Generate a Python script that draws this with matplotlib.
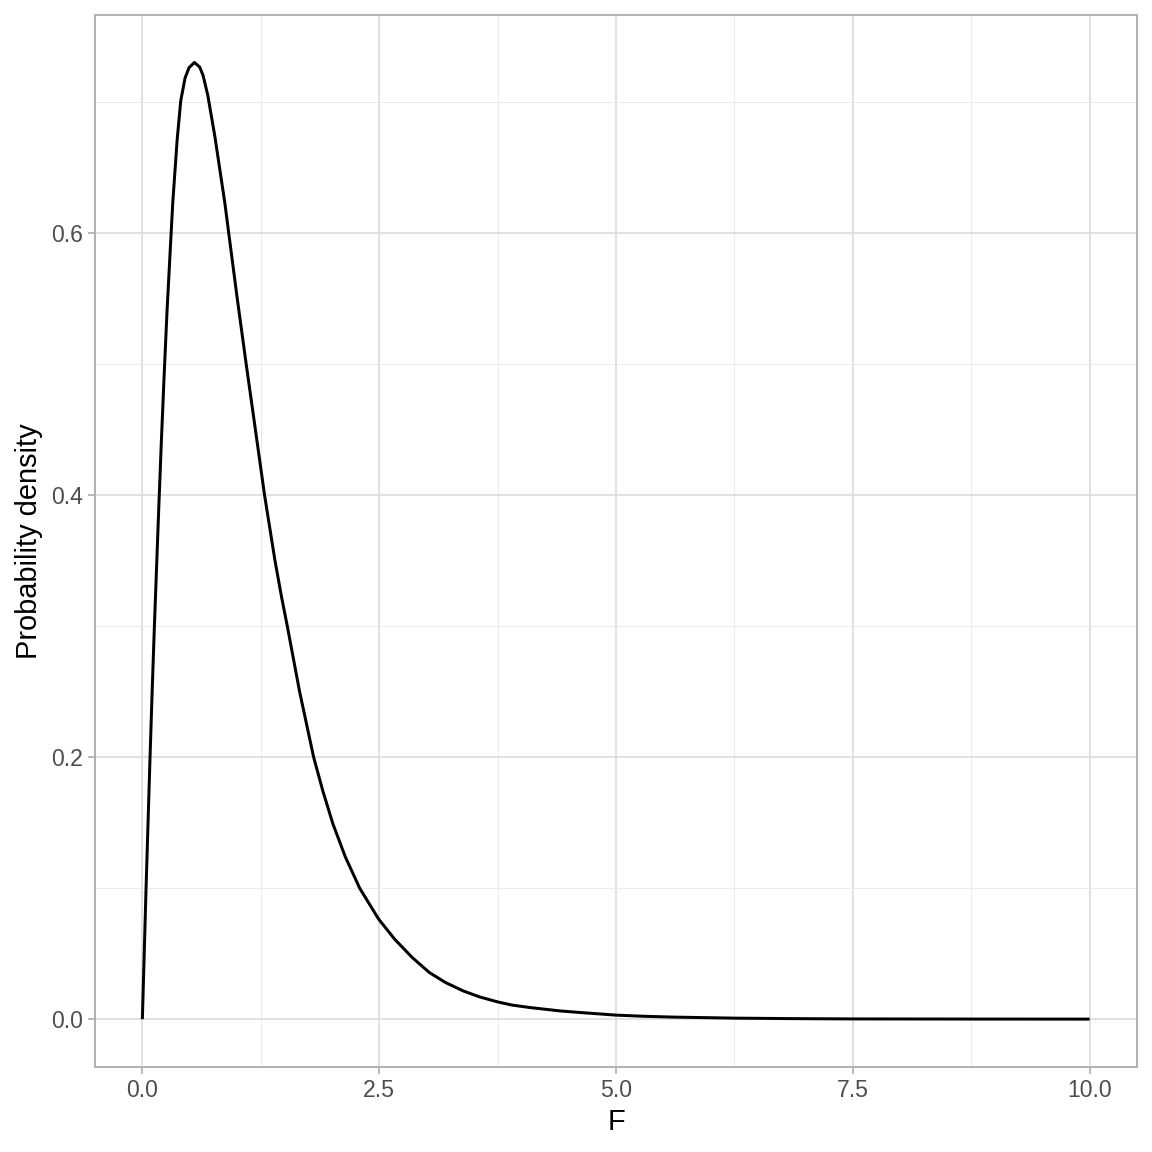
import matplotlib
matplotlib.use("Agg")
import matplotlib.pyplot as plt
from matplotlib.ticker import FixedLocator

plt.rcParams['font.family'] = ['Liberation Sans', 'DejaVu Sans']

# Values
f_values = [0.0, 0.039, 0.081, 0.1, 0.127, 0.15, 0.173, 0.2, 0.229, 0.26,
            0.3, 0.321, 0.367, 0.405, 0.451, 0.493, 0.55, 0.606, 0.641, 0.690,
            0.765, 0.870, 0.91, 1.0, 1.096, 1.17, 1.29, 1.40, 1.47, 1.53,
            1.66, 1.808, 1.906, 2.012, 2.142, 2.294, 2.495, 2.664, 2.85, 3.03,
            3.2, 3.386, 3.56, 3.75, 3.9, 4.09, 4.41, 4.62, 5.0, 5.3,
            5.6, 6.25, 6.9, 7.5, 8.75, 10.0]
density = [0.0, 0.1, 0.2, 0.243, 0.3, 0.345, 0.39, 0.44, 0.49, 0.54,
           0.595, 0.6234, 0.671, 0.701, 0.7185, 0.7263, 0.7303, 0.7267, 0.7203, 0.7055,
           0.674, 0.6234, 0.601, 0.551, 0.5, 0.462, 0.4, 0.35, 0.322, 0.3,
           0.25, 0.2, 0.174, 0.149, 0.124, 0.1, 0.0763, 0.061, 0.047, 0.0356,
           0.028, 0.0216, 0.017, 0.0132, 0.0108, 0.0089, 0.0063, 0.0051, 0.0031, 0.0022,
           0.0016, 0.0008, 0.0004, 0.0002, 0.0001, 0.00005]

x_ticks = [0.0, 2.5, 5.0, 7.5, 10.0]
x_tick_labels = ["0.0", "2.5", "5.0", "7.5", "10.0"]
y_ticks = [0.0, 0.2, 0.4, 0.6]
y_tick_labels = ["0.0", "0.2", "0.4", "0.6"]

fig = plt.figure(figsize=(8, 8), dpi=144)
ax = fig.add_axes([95/1152, 85/1152, (1137-95)/1152, (1067-15)/1152])

ax.plot(f_values, density, color='black', linewidth=1.5,
        solid_joinstyle='round', solid_capstyle='butt', zorder=3)

ax.set_xlim(-0.5, 10.5)
ax.set_ylim(-0.0365, 0.7665)

ax.xaxis.set_major_locator(FixedLocator(x_ticks))
ax.set_xticklabels(x_tick_labels)
ax.yaxis.set_major_locator(FixedLocator(y_ticks))
ax.set_yticklabels(y_tick_labels)
ax.xaxis.set_minor_locator(FixedLocator([1.25, 3.75, 6.25, 8.75]))
ax.yaxis.set_minor_locator(FixedLocator([0.1, 0.3, 0.5, 0.7]))

ax.grid(which='major', color='#DEDEDE', linewidth=0.9, zorder=0)
ax.grid(which='minor', color='#EBEBEB', linewidth=0.5, zorder=0)
ax.set_axisbelow(True)

for s in ax.spines.values():
    s.set_color('#B3B3B3')
    s.set_linewidth(1.0)

ax.tick_params(which='major', length=3.6, width=0.9, color='#B3B3B3',
               labelcolor='#4D4D4D', labelsize=11.5, pad=2.5)
ax.tick_params(which='minor', length=0)

ax.set_xlabel("F", fontsize=14.5, color='black', labelpad=3)
ax.set_ylabel("Probability density", fontsize=14.5, color='black', labelpad=4)

fig.savefig("out.png", dpi=144, facecolor='white')
